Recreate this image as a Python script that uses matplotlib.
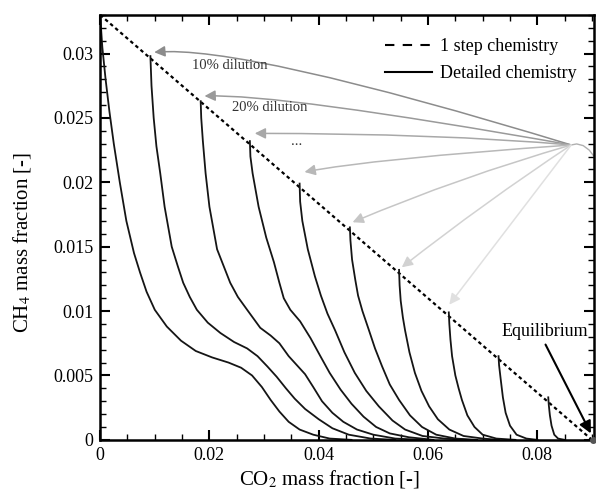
import numpy as np
import matplotlib
matplotlib.use("Agg")
import matplotlib.pyplot as plt
from matplotlib.lines import Line2D
from matplotlib.ticker import MultipleLocator, FormatStrFormatter

plt.rcParams['font.family'] = ['Liberation Serif', 'DejaVu Serif']
plt.rcParams['mathtext.fontset'] = 'stix'

# 1 step chemistry line (fresh mixture -> equilibrium)
one_step_x = [0.0, 0.090]
one_step_y = [0.033, 0.0]

# detailed chemistry trajectories, one per dilution level
curve_x = [
    [0.0, 0.0004, 0.0010, 0.0017, 0.0025, 0.0036, 0.0048, 0.0062, 0.0073, 0.0085, 0.0100,
     0.0122, 0.0148, 0.0175, 0.0205, 0.0235, 0.0258, 0.0278, 0.0296, 0.0312, 0.0328,
     0.0345, 0.0365, 0.0390, 0.0420, 0.0460],
    [0.0092, 0.0094, 0.0098, 0.0103, 0.0110, 0.0118, 0.0131, 0.0142, 0.0152, 0.0164,
     0.0177, 0.0197, 0.0220, 0.0245, 0.0269, 0.0288, 0.0306, 0.0323, 0.0340, 0.0356,
     0.0375, 0.0400, 0.0425, 0.0455, 0.0495, 0.0540],
    [0.0184, 0.0185, 0.0188, 0.0193, 0.0200, 0.0214, 0.0238, 0.0252, 0.0269, 0.0293,
     0.0312, 0.0328, 0.0345, 0.0360, 0.0375, 0.0390, 0.0406, 0.0425, 0.0445, 0.0470,
     0.0500, 0.0540, 0.0590],
    [0.0274, 0.0275, 0.0279, 0.0290, 0.0304, 0.0318, 0.0328, 0.0336, 0.0348, 0.0366,
     0.0385, 0.0403, 0.0420, 0.0440, 0.0460, 0.0482, 0.0505, 0.0530, 0.0565, 0.0610],
    [0.0365, 0.0366, 0.0370, 0.0380, 0.0393, 0.0404, 0.0416, 0.0430, 0.0447, 0.0466,
     0.0487, 0.0510, 0.0535, 0.0558, 0.0590, 0.0630, 0.0670],
    [0.0457, 0.0458, 0.0461, 0.0467, 0.0472, 0.0480, 0.0492, 0.0503, 0.0516, 0.0530,
     0.0547, 0.0567, 0.0589, 0.0615, 0.0650, 0.0690],
    [0.0547, 0.0548, 0.0550, 0.0554, 0.0558, 0.0566, 0.0576, 0.0588, 0.0602, 0.0618,
     0.0639, 0.0665, 0.0700, 0.0730],
    [0.0638, 0.0639, 0.0641, 0.0644, 0.0650, 0.0656, 0.0662, 0.0672, 0.0685, 0.0700,
     0.0725, 0.0760],
    [0.0729, 0.0730, 0.0733, 0.0737, 0.0742, 0.0750, 0.0762, 0.0780, 0.0800],
    [0.0820, 0.0821, 0.0823, 0.0826, 0.0831, 0.0838, 0.0850],
]
curve_y = [
    [0.0330, 0.0305, 0.0280, 0.0255, 0.0230, 0.0200, 0.0170, 0.0145, 0.0130, 0.0115, 0.0101,
     0.0088, 0.0077, 0.0069, 0.0064, 0.0060, 0.0056, 0.0050, 0.0041, 0.0031, 0.0022,
     0.0014, 0.0008, 0.0004, 0.0001, 0.0],
    [0.0298, 0.0275, 0.0250, 0.0228, 0.0207, 0.0181, 0.0150, 0.0135, 0.0122, 0.0111,
     0.0101, 0.0091, 0.0083, 0.0076, 0.0071, 0.0065, 0.0057, 0.0049, 0.0040, 0.0032,
     0.0024, 0.0016, 0.0009, 0.0004, 0.0001, 0.0],
    [0.0263, 0.0250, 0.0232, 0.0207, 0.0181, 0.0148, 0.0122, 0.0111, 0.0101, 0.0087,
     0.0081, 0.0075, 0.0065, 0.0058, 0.0051, 0.0041, 0.0030, 0.0021, 0.0014, 0.0008,
     0.0004, 0.0001, 0.0],
    [0.0232, 0.0220, 0.0207, 0.0181, 0.0157, 0.0138, 0.0122, 0.0110, 0.0101, 0.0092,
     0.0079, 0.0065, 0.0052, 0.0039, 0.0028, 0.0018, 0.0010, 0.0005, 0.0002, 0.0],
    [0.0199, 0.0185, 0.0170, 0.0148, 0.0127, 0.0112, 0.0098, 0.0085, 0.0068, 0.0052,
     0.0038, 0.0026, 0.0015, 0.0008, 0.0003, 0.0001, 0.0],
    [0.0165, 0.0155, 0.0140, 0.0124, 0.0112, 0.0100, 0.0085, 0.0071, 0.0057, 0.0043,
     0.0031, 0.0019, 0.0010, 0.0004, 0.0001, 0.0],
    [0.0132, 0.0120, 0.0108, 0.0095, 0.0085, 0.0068, 0.0052, 0.0038, 0.0026, 0.0016,
     0.0008, 0.0003, 0.0001, 0.0],
    [0.0099, 0.0090, 0.0078, 0.0065, 0.0050, 0.0040, 0.0031, 0.0019, 0.0010, 0.0004,
     0.0001, 0.0],
    [0.0065, 0.0058, 0.0047, 0.0033, 0.0021, 0.0011, 0.0004, 0.0001, 0.0],
    [0.0033, 0.0027, 0.0019, 0.0011, 0.0004, 0.0001, 0.0],
]

# dilution arrows: common origin and arrow tips
arrow_src = (0.0862, 0.0229)
tip_x = [0.0099, 0.0191, 0.0283, 0.0374, 0.0462, 0.0552, 0.0639]
tip_y = [0.0301, 0.0267, 0.0238, 0.0208, 0.0169, 0.0134, 0.0105]
arrow_conn = ['angle3,angleA=-17,angleB=5', 'angle3,angleA=-10,angleB=2',
              'angle3,angleA=-5,angleB=0', 'angle3,angleA=4,angleB=11',
              'arc3,rad=0.03', 'arc3,rad=0.02', 'arc3,rad=0.0']
arrow_col = ['#8c8c8c', '#9a9a9a', '#a8a8a8', '#b8b8b8', '#c6c6c6', '#d2d2d2', '#e0e0e0']

# small grey tail right of the arrow origin
tail_x = [0.0862, 0.0872, 0.0884, 0.0895, 0.0904, 0.0911]
tail_y = [0.0229, 0.02298, 0.02285, 0.0225, 0.0220, 0.0214]

fig = plt.figure(figsize=(5.96, 4.97), dpi=100)
ax = fig.add_axes([0.168, 0.115, 0.828, 0.855])

ax.plot(one_step_x, one_step_y, color='black', lw=1.6, ls=(0, (1.6, 1.4)))
for cx, cy in zip(curve_x, curve_y):
    ax.plot(cx, cy, color='#151515', lw=1.3)

ax.plot(tail_x, tail_y, color='#b0b0b0', lw=1.0)
for i in range(len(tip_x)):
    ax.annotate('', xy=(tip_x[i], tip_y[i]), xytext=arrow_src,
                arrowprops=dict(arrowstyle='-|>', color=arrow_col[i], lw=1.1,
                                connectionstyle=arrow_conn[i],
                                shrinkA=0, shrinkB=0, mutation_scale=16))

ax.text(0.0237, 0.0291, '10% dilution', fontsize=10.5, color='#333333', ha='center', va='center')
ax.text(0.0311, 0.0258, '20% dilution', fontsize=10.5, color='#333333', ha='center', va='center')
ax.text(0.0359, 0.0232, '...', fontsize=10.5, color='#333333', ha='center', va='center')

ax.text(0.0814, 0.0084, 'Equilibrium', fontsize=13, ha='center', va='center')
ax.annotate('', xy=(0.0898, 0.0005), xytext=(0.0815, 0.0074),
            arrowprops=dict(arrowstyle='-|>', color='black', lw=1.5,
                            shrinkA=0, shrinkB=0, mutation_scale=18))
ax.plot([0.0902], [0.0], 'o', color='#555555', ms=4, clip_on=False, zorder=5)

ax.set_xlim(0, 0.0903)
ax.set_ylim(0, 0.0330)
ax.xaxis.set_major_locator(MultipleLocator(0.02))
ax.xaxis.set_minor_locator(MultipleLocator(0.005))
ax.yaxis.set_major_locator(MultipleLocator(0.005))
ax.yaxis.set_minor_locator(MultipleLocator(0.001))
ax.xaxis.set_major_formatter(FormatStrFormatter('%g'))
ax.yaxis.set_major_formatter(FormatStrFormatter('%g'))
ax.tick_params(which='both', direction='in', top=True, right=True, labelsize=13)
ax.tick_params(which='major', length=7, width=1.5, pad=5)
ax.tick_params(which='minor', length=4, width=1.0)
for s in ax.spines.values():
    s.set_linewidth(1.8)

ax.set_xlabel('CO$_2$ mass fraction [-]', fontsize=15)
ax.xaxis.set_label_coords(0.465, -0.066)
ax.set_ylabel('CH$_4$ mass fraction [-]', fontsize=15)
ax.yaxis.set_label_coords(-0.136, 0.464)

handles = [Line2D([], [], color='black', lw=1.5, ls=(0, (4.5, 4))),
           Line2D([], [], color='black', lw=1.5)]
ax.legend(handles, ['1 step chemistry', 'Detailed chemistry'], loc='upper left',
          bbox_to_anchor=(0.578, 0.946), frameon=False, fontsize=13, borderpad=0,
          borderaxespad=0, handlelength=2.6, handletextpad=0.45, labelspacing=0.57)

fig.savefig('out.png', dpi=100)
